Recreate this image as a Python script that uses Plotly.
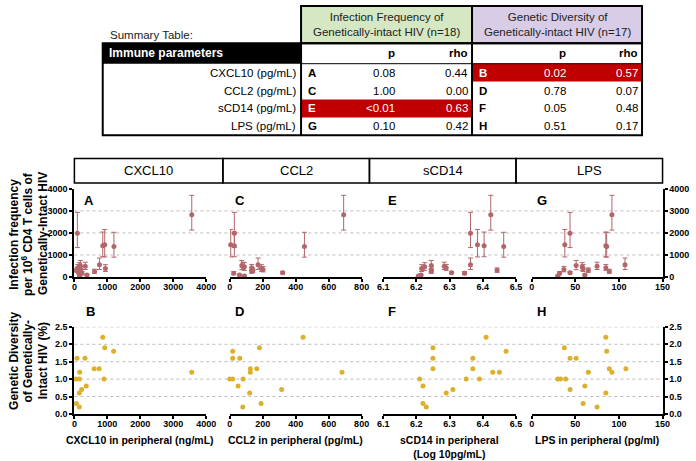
import plotly.graph_objects as go

# ---------------- data ----------------
panel_names = ["CXCL10", "CCL2", "sCD14", "LPS"]
top_letters = ["A", "C", "E", "G"]
bottom_letters = ["B", "D", "F", "H"]
x_titles = ["CXCL10 in peripheral (ng/mL)", "CCL2 in peripheral (pg/mL)",
            "sCD14 in peripheral<br>(Log 10pg/mL)", "LPS in peripheral (pg/ml)"]
top_title_lines = ["Infection frequency", "per 10<sup>6</sup> CD4 T cells of", "Genetically-Intact HIV"]
bot_title_lines = ["Genetic Diversity", "of Genetically-", "Intact HIV (%)"]

# infection frequency (18 participants) with asymmetric error bars
inf_freq = [2830, 1985, 1460, 1420, 1380, 560, 520, 490, 460, 420, 390, 340, 300, 250, 195, 165, 90, 45]
err_up = [880, 950, 700, 620, 650, 300, 230, 180, 190, 150, 170, 140, 110, 100, 60, 80, 40, 40]
err_down = [700, 650, 550, 500, 480, 220, 190, 150, 160, 120, 140, 110, 90, 80, 50, 60, 30, 30]
cxcl10_top = [3560, 90, 920, 860, 1200, 760, 180, 330, 150, 100, 940, 200, 60, 610, 130, 230, 380, 160]
ccl2_top = [691, 28, 6, 28, 453, 172, 73, 80, 89, 133, 192, 202, 140, 133, 321, 24, 59, 89]
scd14_top = [6.424, 6.363, 6.384, 6.404, 6.463, 6.363, 6.245, 6.284, 6.225, 6.29, 6.216, 6.245,
             6.443, 6.245, 6.306, 6.345, 6.214, 6.206]
lps_top = [92, 44, 38, 85, 86, 107, 51, 75, 58, 85, 59, 37, 65, 89, 44, 32, 61, 30]

# genetic diversity (17 participants)
diversity = [2.2, 1.9, 1.8, 1.6, 1.6, 1.3, 1.3, 1.2, 1.2, 1.0, 1.0, 1.0, 0.8, 0.7, 0.6, 0.3, 0.2]
cxcl10_div = [860, 920, 1190, 80, 320, 600, 750, 160, 3560, 50, 150, 900, 360, 220, 150, 60, 150]
ccl2_div = [445, 180, 18, 18, 61, 125, 164, 125, 681, 0, 18, 81, 51, 315, 121, 190, 79]
scd14_div = [6.41, 6.25, 6.47, 6.25, 6.37, 6.25, 6.37, 6.43, 6.45, 6.21, 6.35, 6.39, 6.22, 6.31, 6.29, 6.22, 6.23]
lps_div = [85, 37.5, 86, 44, 51, 89, 108, 65, 92, 30, 33, 39, 61, 44, 85, 59, 75]

x_ranges = [[0, 4000], [0, 800], [6.1, 6.5], [0, 150]]
x_tickvals = [[0, 1000, 2000, 3000, 4000], [0, 200, 400, 600, 800],
              [6.1, 6.2, 6.3, 6.4, 6.5], [0, 50, 100, 150]]
x_ticktext = [["0", "1000", "2000", "3000", "4000"], ["0", "200", "400", "600", "800"],
              ["6.1", "6.2", "6.3", "6.4", "6.5"], ["0", "50", "100", "150"]]
top_yticks = [0, 1000, 2000, 3000, 4000]
bot_yticks = [0.0, 0.5, 1.0, 1.5, 2.0, 2.5]

# summary table
table_params = ["CXCL10 (pg/mL)", "CCL2 (pg/mL)", "sCD14 (pg/mL)", "LPS (pg/mL)"]
freq_letters = ["A", "C", "E", "G"]
freq_p = ["0.08", "1.00", "<0.01", "0.10"]
freq_rho = ["0.44", "0.00", "0.63", "0.42"]
freq_sig = [False, False, True, False]
div_letters = ["B", "D", "F", "H"]
div_p = ["0.02", "0.78", "0.05", "0.51"]
div_rho = ["0.57", "0.07", "0.48", "0.17"]
div_sig = [True, False, False, False]

# ---------------- styling ----------------
W, H = 696, 461
def px(x): return x / W
def py(y): return 1 - y / H

FONT = "Liberation Sans, Arial, sans-serif"
TOP_COL = "#b2666a"
BOT_COL = "#dcb02c"
RED = "#c00000"

top_x = [cxcl10_top, ccl2_top, scd14_top, lps_top]
bot_x = [cxcl10_div, ccl2_div, scd14_div, lps_div]
x_px = [(70, 205), (229, 364), (386, 522), (538, 672)]
box_px = [(70, 222), (222, 372), (372, 522), (522, 672)]
top_dom = [py(278), py(188)]
bot_dom = [py(418), py(329)]

fig = go.Figure()
layout = {}
for i in range(4):
    for row in range(2):
        n = i + 1 + 4 * row
        xs = "" if n == 1 else str(n)
        if row == 0:
            fig.add_trace(go.Scatter(
                x=top_x[i], y=inf_freq, mode="markers",
                marker=dict(size=5, color=TOP_COL),
                error_y=dict(type="data", symmetric=False, array=err_up, arrayminus=err_down,
                             color=TOP_COL, thickness=1, width=2.5),
                xaxis="x" + xs, yaxis="y" + xs, cliponaxis=False, showlegend=False,
                hoverinfo="skip"))
        else:
            fig.add_trace(go.Scatter(
                x=bot_x[i], y=diversity, mode="markers",
                marker=dict(size=5, color=BOT_COL),
                xaxis="x" + xs, yaxis="y" + xs, cliponaxis=False, showlegend=False,
                hoverinfo="skip"))
        layout["xaxis" + xs] = dict(
            domain=[px(x_px[i][0]), px(x_px[i][1])], range=x_ranges[i],
            tickvals=x_tickvals[i], ticktext=x_ticktext[i], anchor="y" + xs,
            showline=True, linecolor="black", linewidth=2, ticks="outside", ticklen=3,
            tickwidth=1.5, tickcolor="black", showgrid=False, zeroline=False,
            ticklabelstandoff=-3,
            tickfont=dict(family=FONT, size=9, color="black", weight="bold"))
        yticks = top_yticks if row == 0 else bot_yticks
        yfmt = [str(v) for v in yticks] if row == 0 else ["%.1f" % v for v in yticks]
        ya = dict(domain=top_dom if row == 0 else bot_dom,
                  range=[0, 4000] if row == 0 else [0, 2.5],
                  anchor="x" + xs, showgrid=False, zeroline=False,
                  tickvals=yticks, ticktext=yfmt)
        if i == 0 or i == 3:
            ya.update(showline=True, linecolor="black", linewidth=2, ticks="outside",
                      ticklen=3, tickwidth=1.5, tickcolor="black",
                      side="left" if i == 0 else "right",
                      tickfont=dict(family=FONT, size=9, color="black", weight="bold"))
        else:
            ya.update(visible=False)
        layout["yaxis" + xs] = ya

shapes = []
annotations = []

# gridlines across the panel area
for v in top_yticks[1:4]:
    shapes.append(dict(type="line", xref="paper", yref="y", x0=px(70), x1=px(672), y0=v, y1=v,
                       line=dict(color="#bdbdbd", width=1, dash="dot"), layer="below"))
for v in bot_yticks[1:]:
    shapes.append(dict(type="line", xref="paper", yref="y5", x0=px(70), x1=px(672), y0=v, y1=v,
                       line=dict(color="#bdbdbd", width=1, dash="dot"), layer="below"))

# panel header boxes
for i, name in enumerate(panel_names):
    a, b = box_px[i]
    shapes.append(dict(type="rect", xref="paper", yref="paper", x0=px(a), x1=px(b),
                       y0=py(182), y1=py(157), line=dict(color="black", width=1.5)))
    annotations.append(dict(xref="paper", yref="paper", x=px((a + b) / 2), y=py(169.5),
                            text=name, showarrow=False, xanchor="center", yanchor="middle",
                            font=dict(family=FONT, size=13, color="black")))
    # panel letters
    lx = x_px[i][0] + (8 if i == 0 else 3)
    annotations.append(dict(xref="paper", yref="paper", x=px(lx), y=py(200), text=top_letters[i],
                            showarrow=False, xanchor="left", yanchor="middle",
                            font=dict(family=FONT, size=13, color="black", weight="bold")))
    annotations.append(dict(xref="paper", yref="paper", x=px(lx + 2 if i == 0 else lx), y=py(313),
                            text=bottom_letters[i], showarrow=False, xanchor="left", yanchor="middle",
                            font=dict(family=FONT, size=13, color="black", weight="bold")))
    # x titles
    annotations.append(dict(xref="paper", yref="paper", x=px((x_px[i][0] + x_px[i][1]) / 2),
                            y=py(436), text=x_titles[i], showarrow=False, xanchor="center",
                            yanchor="top",
                            font=dict(family=FONT, size=10.5, color="black", weight="bold")))

# left y titles, one annotation per line for tight line spacing
for t, xl in zip(top_title_lines, [8, 21.5, 38]):
    annotations.append(dict(xref="paper", yref="paper", x=px(xl), y=py(234), text=t,
                            showarrow=False, textangle=-90, xanchor="center", yanchor="middle",
                            font=dict(family=FONT, size=12, color="black", weight="bold")))
for t, xl in zip(bot_title_lines, [8, 23, 38]):
    annotations.append(dict(xref="paper", yref="paper", x=px(xl), y=py(364), text=t,
                            showarrow=False, textangle=-90, xanchor="center", yanchor="middle",
                            font=dict(family=FONT, size=12, color="black", weight="bold")))

# ---------------- summary table ----------------
TL, C1, C2, TR = 99, 302, 477, 651
row_edges = [60, 78.3, 96.6, 114.9, 133.2]
head_top, head_bot = 39, 60

shapes.append(dict(type="rect", xref="paper", yref="paper", x0=px(C1), x1=px(C2), y0=py(head_top), y1=py(1),
                   fillcolor="#d5e8c3", line=dict(color="black", width=2)))
shapes.append(dict(type="rect", xref="paper", yref="paper", x0=px(C2), x1=px(TR), y0=py(head_top), y1=py(1),
                   fillcolor="#d8cce6", line=dict(color="black", width=2)))
shapes.append(dict(type="rect", xref="paper", yref="paper", x0=px(TL), x1=px(C1), y0=py(head_bot), y1=py(head_top),
                   fillcolor="black", line=dict(width=0)))
for r in range(4):
    y0, y1 = row_edges[r], row_edges[r + 1]
    if freq_sig[r]:
        shapes.append(dict(type="rect", xref="paper", yref="paper", x0=px(C1), x1=px(C2), y0=py(y1), y1=py(y0),
                           fillcolor=RED, line=dict(width=0)))
    if div_sig[r]:
        shapes.append(dict(type="rect", xref="paper", yref="paper", x0=px(C2), x1=px(TR), y0=py(y1), y1=py(y0),
                           fillcolor=RED, line=dict(width=0)))
shapes.append(dict(type="rect", xref="paper", yref="paper", x0=px(TL), x1=px(TR), y0=py(row_edges[-1]),
                   y1=py(head_top), line=dict(color="black", width=2)))
for xv in (C1, C2):
    shapes.append(dict(type="line", xref="paper", yref="paper", x0=px(xv), x1=px(xv), y0=py(row_edges[-1]),
                       y1=py(head_top), line=dict(color="black", width=2)))
shapes.append(dict(type="line", xref="paper", yref="paper", x0=px(C1), x1=px(TR), y0=py(head_bot),
                   y1=py(head_bot), line=dict(color="black", width=1)))

def tbl_text(x, y, text, anchor, color="black", bold=False, size=11.5):
    annotations.append(dict(xref="paper", yref="paper", x=px(x), y=py(y), text=text, showarrow=False,
                            xanchor=anchor, yanchor="middle",
                            font=dict(family=FONT, size=size, color=color,
                                      weight="bold" if bold else "normal")))

tbl_text(104, 31, "Summary Table:", "left", color="#222222")
tbl_text((C1 + C2) / 2, 19.5, "Infection Frequency of<br>Genetically-intact HIV (n=18)", "center", color="#222222")
tbl_text((C2 + TR) / 2, 19.5, "Genetic Diversity of<br>Genetically-intact HIV (n=17)", "center", color="#222222")
tbl_text(103, (head_top + head_bot) / 2, "Immune parameters", "left", color="white", bold=True, size=12)
hy = (head_top + head_bot) / 2
tbl_text(400, hy, "p", "right", bold=True)
tbl_text(475, hy, "rho", "right", bold=True)
tbl_text(575, hy, "p", "right", bold=True)
tbl_text(649, hy, "rho", "right", bold=True)
for r in range(4):
    cy = (row_edges[r] + row_edges[r + 1]) / 2
    tbl_text(299, cy, table_params[r], "right")
    fc = "white" if freq_sig[r] else "black"
    dc = "white" if div_sig[r] else "black"
    tbl_text(307, cy, freq_letters[r], "left", color=fc, bold=True)
    tbl_text(400, cy, freq_p[r], "right", color=fc)
    tbl_text(475, cy, freq_rho[r], "right", color=fc)
    tbl_text(482, cy, div_letters[r], "left", color=dc, bold=True)
    tbl_text(575, cy, div_p[r], "right", color=dc)
    tbl_text(649, cy, div_rho[r], "right", color=dc)

fig.update_layout(
    width=W, height=H, margin=dict(l=0, r=0, t=0, b=0),
    paper_bgcolor="white", plot_bgcolor="white", showlegend=False,
    hovermode=False, shapes=shapes, annotations=annotations, **layout)

fig.write_html("out.html", config={"displayModeBar": False},
               post_script="document.body.style.margin='0';")
